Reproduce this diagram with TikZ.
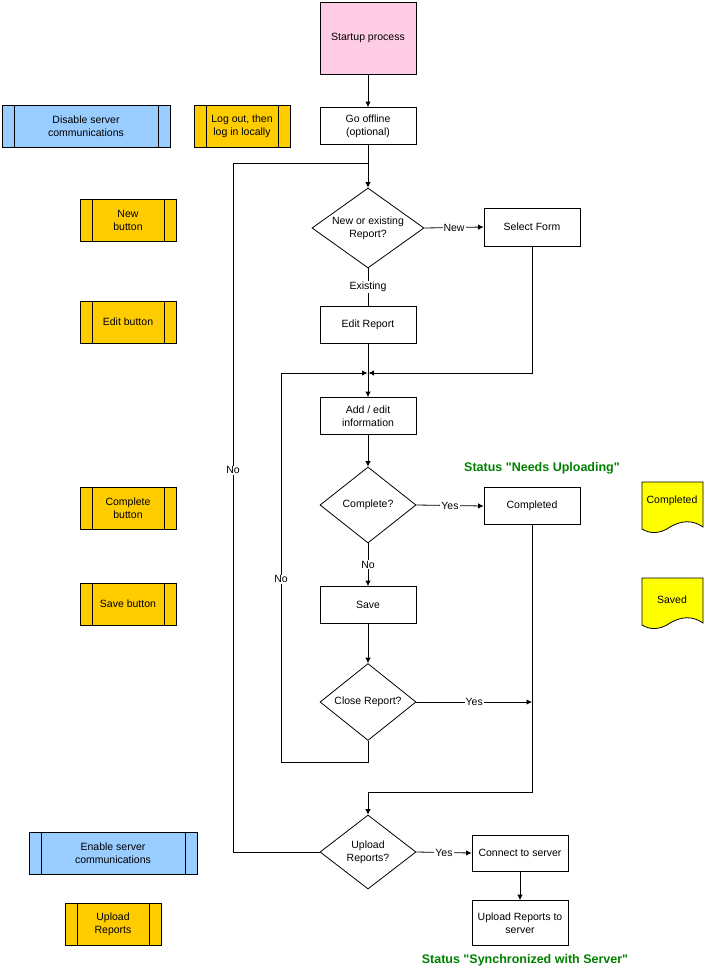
\documentclass[tikz,border=0pt]{standalone}
\usepackage{fontspec}
\setmainfont{Liberation Sans}
\usetikzlibrary{shapes.geometric,arrows.meta}
\definecolor{startpink}{RGB}{255,204,229}
\definecolor{srvblue}{RGB}{153,204,255}
\definecolor{btnorange}{RGB}{255,204,0}
\definecolor{docyellow}{RGB}{255,255,0}
\definecolor{statusgreen}{RGB}{0,128,0}
\begin{document}
\begin{tikzpicture}[x=1pt, y=-1pt, line width=0.8pt,
  font=\fontsize{10.5}{13}\selectfont,
  proc/.style={draw, fill=#1, minimum width=96pt, minimum height=37pt,
               align=center, inner sep=1pt},
  proc/.default=white,
  dec/.style={draw, diamond, fill=white, minimum width=96pt,
              minimum height=74pt, inner sep=0pt, align=center},
  sub/.style={draw, fill=#1, minimum width=96pt, minimum height=42pt,
              align=center, inner sep=1pt,
              path picture={
                \draw ([xshift=12pt]path picture bounding box.north west)
                   -- ([xshift=12pt]path picture bounding box.south west);
                \draw ([xshift=-12pt]path picture bounding box.north east)
                   -- ([xshift=-12pt]path picture bounding box.south east);}},
  docshape/.style={draw, fill=docyellow},
  arr/.style={-{Latex[length=5.5pt,width=5.5pt]}},
  lbl/.style={fill=white, inner sep=1pt},
  status/.style={font=\fontsize{12.5}{14}\selectfont\bfseries, text=statusgreen}
]
  \useasboundingbox (0,0) rectangle (705,972);

  % main flow
  \node[proc=startpink, minimum height=72pt] (start) at (368,38) {Startup process};
  \node[proc] (offline) at (368,126) {Go offline\\(optional)};
  \node[dec, minimum width=112pt, minimum height=80pt, shape aspect=1.4,
        inner sep=-1.5pt] (newq) at (368,228) {New or existing\\Report?};
  \node[proc, minimum height=38pt] (selform) at (532,227) {Select Form};
  \node[proc] (editrep) at (368,325) {Edit Report};
  \node[proc] (addinfo) at (368,416) {Add / edit\\information};
  \node[dec, minimum height=76pt] (compq) at (368,505) {Complete?};
  \node[proc] (completed) at (532,506) {Completed};
  \node[proc] (save) at (368,605) {Save};
  \node[dec] (closeq) at (368,702) {Close Report?};
  \node[dec] (uploadq) at (368,852) {Upload\\Reports?};
  \node[proc, minimum height=36pt] (connect) at (520,853) {Connect to server};
  \node[proc, minimum height=45pt] (upload) at (520,923) {Upload Reports to\\server};

  \node[status] (needst) at (542,468)
        {Status \textquotedbl Needs Uploading\textquotedbl};
  \node[status] (syncst) at (525,960)
        {Status \textquotedbl Synchronized with Server\textquotedbl};

  % buttons and server actions
  \node[sub=srvblue, minimum width=168pt] (disable) at (86,126)
        {Disable server\\communications};
  \node[sub=btnorange] (logout) at (242,126) {Log out, then\\log in locally};
  \node[sub=btnorange] (newbtn) at (128,220) {New\\button};
  \node[sub=btnorange] (editbtn) at (128,322) {Edit button};
  \node[sub=btnorange] (compbtn) at (128,508) {Complete\\button};
  \node[sub=btnorange] (savebtn) at (128,604) {Save button};
  \node[sub=srvblue, minimum width=168pt] (enable) at (113,853)
        {Enable server\\communications};
  \node[sub=btnorange] (uploadbtn) at (113,924) {Upload\\Reports};

  % status documents
  \filldraw[docshape] (642,482) -- (703,482) -- (703,527)
     .. controls (693,520) and (682,520) .. (670,527)
     .. controls (660,534) and (650,534) .. (642,529) -- cycle;
  \node (compdoc) at (672,501) {Completed};
  \filldraw[docshape] (642,578) -- (703,578) -- (703,623)
     .. controls (693,616) and (682,616) .. (670,623)
     .. controls (660,630) and (650,630) .. (642,625) -- cycle;
  \node (saveddoc) at (672,600) {Saved};

  % junctions
  \coordinate (j1) at (368,163);
  \coordinate (nol) at (233,163);
  \coordinate (j2) at (368,373);
  \coordinate (loopl) at (281,762);
  \coordinate (j3) at (368,792);
  \coordinate (closey) at (532,702);

  % connectors
  \draw[arr] (start) -- (offline);
  \draw[arr] (offline) -- (newq);
  \draw (uploadq.west) -| node[lbl, pos=0.777] {No} (nol) -- (j1);
  \draw[arr] (newq.east) -- node[lbl] {New} (selform.west);
  \draw (newq.south) -- node[lbl, pos=0.5] {Existing} (editrep.north);
  \draw[arr] (editrep) -- (addinfo);
  \draw[arr, shorten >=0.5pt] (selform.south) |- (j2);
  \draw[arr, shorten >=0.5pt] (closeq.south) |- (loopl)
       |- node[lbl, pos=0.235] {No} (j2);
  \draw[arr] (addinfo) -- (compq);
  \draw[arr] (compq.east) -- node[lbl] {Yes} (completed.west);
  \draw[arr] (compq.south) -- node[lbl] {No} (save.north);
  \draw[arr] (save) -- (closeq);
  \draw[arr] (closeq.east) -- node[lbl] {Yes} (closey);
  \draw[arr] (completed.south) |- (j3) -- (uploadq.north);
  \draw[arr] (uploadq.east) -- node[lbl] {Yes} (connect.west);
  \draw[arr] (connect) -- (upload);
\end{tikzpicture}
\end{document}
